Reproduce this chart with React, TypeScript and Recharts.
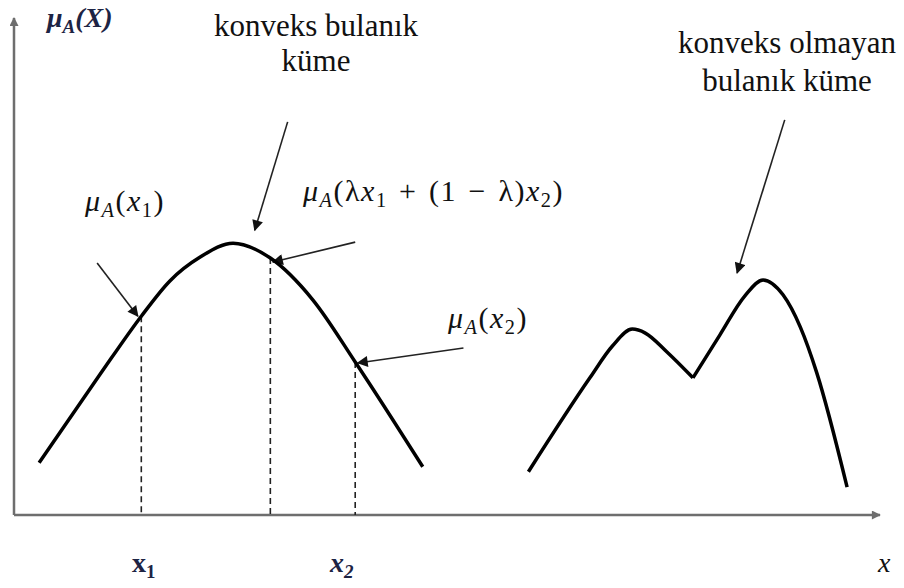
import { ComposedChart, Line, XAxis, YAxis, ReferenceLine, Customized } from 'recharts'

// universe of discourse runs 0..100 along x, membership 0..100 (%) along y
const convexX = [2.9, 9.9, 14.7, 18.0, 21.5, 25.3, 29.6, 34.5, 39.4, 47.2]
const convexMu = [10.5, 28.2, 40.0, 47.1, 51.9, 54.7, 51.7, 43.3, 30.8, 9.7]

// the non-convex set is drawn in two pieces so the dip keeps its sharp corner
const riseX = [59.4, 66.5, 69.1, 71.4, 72.9, 75.4, 78.4]
const riseMu = [8.7, 27.6, 34.0, 37.4, 36.6, 32.8, 27.6]
const fallX = [78.4, 81.5, 84.4, 86.5, 88.8, 90.8, 92.7, 96.2]
const fallMu = [27.6, 36.2, 44.1, 47.3, 44.3, 37.8, 28.6, 5.6]

// indexes into the convex curve: x1, λx1 + (1 − λ)x2, x2
const dropIdx = [2, 6, 8]

// pointer arrows: [fromX, fromMu, toX, toMu]
const pointers = [
  [31.6, 79.1, 27.8, 57.3],
  [9.6, 50.7, 14.3, 40.0],
  [39.4, 54.9, 29.9, 50.9],
  [51.9, 33.6, 39.7, 30.6],
  [89.0, 79.5, 83.5, 48.7],
]

const convex = convexX.map((x, i) => ({ x, mu: convexMu[i] }))
const rise = riseX.map((x, i) => ({ x, mu: riseMu[i] }))
const fall = fallX.map((x, i) => ({ x, mu: fallMu[i] }))

const serif = 'Liberation Serif'
const ink = '#1d2444'
const sp = '\u2004'

const Defs = () => (
  <defs>
    <marker id="head" viewBox="0 0 10 10" refX="9" refY="5" markerWidth="14" markerHeight="11"
      markerUnits="userSpaceOnUse" orient="auto">
      <path d="M0,0 L10,5 L0,10 z" fill="#111" />
    </marker>
    <marker id="axisHead" viewBox="0 0 10 10" refX="9" refY="5" markerWidth="10" markerHeight="9"
      markerUnits="userSpaceOnUse" orient="auto">
      <path d="M0,0 L10,5 L0,10 z" fill="#6e6e6e" />
    </marker>
  </defs>
)

const T = (p: { x: number; y: number; size: number; anchor?: string; fill?: string; bold?: boolean; italic?: boolean; spacing?: number; children: any }) => (
  <text x={p.x} y={p.y} fontFamily={serif} fontSize={p.size} textAnchor={p.anchor ?? 'start'}
    fill={p.fill ?? '#111'} fontWeight={p.bold ? 'bold' : 'normal'} fontStyle={p.italic ? 'italic' : 'normal'}
    letterSpacing={p.spacing ?? 0} style={{ fontFamily: serif, fontSize: p.size }}>
    {p.children}
  </text>
)

// subscripted tspan; the next tspan carries dy back up
const sub = (s: string, italic = false) => (
  <tspan dy={6} fontSize="0.68em" fontStyle={italic ? 'italic' : undefined}>{s}</tspan>
)
const it = (s: string, dy?: number) => <tspan dy={dy} fontStyle="italic">{s}</tspan>
const up = (s: string, dy?: number) => <tspan dy={dy}>{s}</tspan>

const Labels = () => (
  <g>
    <T x={47} y={27} size={28} bold italic fill={ink}>μ{sub('A')}{up('(X)', -6)}</T>

    <T x={316} y={36} size={31} anchor="middle">konveks bulanık</T>
    <T x={316} y={71} size={31} anchor="middle">küme</T>
    <T x={787} y={53} size={31} anchor="middle">konveks olmayan</T>
    <T x={787} y={91} size={31} anchor="middle">bulanık küme</T>

    <T x={85} y={211} size={30} spacing={1.5}>
      {it('μ')}{sub('A', true)}{up('(', -6)}{it('x')}{sub('1')}{up(')', -6)}
    </T>
    <T x={303} y={201} size={30} spacing={1.5}>
      {it('μ')}{sub('A', true)}{up('(λ', -6)}{it('x')}{sub('1')}
      {up(`${sp}+${sp}(1${sp}−${sp}λ)`, -6)}{it('x')}{sub('2')}{up(')', -6)}
    </T>
    <T x={448} y={328} size={30} spacing={1.5}>
      {it('μ')}{sub('A', true)}{up('(', -6)}{it('x')}{sub('2')}{up(')', -6)}
    </T>

    <T x={132} y={572} size={28} bold fill={ink}>x{sub('1')}</T>
    <T x={330} y={572} size={28} bold italic fill={ink}>x{sub('2')}</T>
    <T x={878} y={572} size={28} italic>x</T>
  </g>
)

export default function App() {
  return (
    <div style={{ position: 'absolute', left: 0, top: 0, background: '#fff' }}>
      <ComposedChart width={904} height={588} margin={{ top: 18, right: 24, bottom: 73, left: 14 }}>
        <Customized component={<Defs />} />
        <XAxis type="number" dataKey="x" domain={[0, 100]} hide />
        <YAxis type="number" dataKey="mu" domain={[0, 100]} hide />

        {/* coordinate axes with arrow tips */}
        <ReferenceLine segment={[{ x: 0, y: 0 }, { x: 100, y: 0 }]} stroke="#6e6e6e" strokeWidth={2.5}
          markerEnd="url(#axisHead)" ifOverflow="visible" />
        <ReferenceLine segment={[{ x: 0, y: 0 }, { x: 0, y: 100 }]} stroke="#6e6e6e" strokeWidth={2.5}
          markerEnd="url(#axisHead)" ifOverflow="visible" />

        {dropIdx.map((i) => (
          <ReferenceLine key={`drop-${i}`} segment={[{ x: convexX[i], y: convexMu[i] }, { x: convexX[i], y: 0 }]}
            stroke="#222" strokeWidth={1.6} strokeDasharray="6 4" ifOverflow="visible" />
        ))}

        {pointers.map(([x1, y1, x2, y2], i) => (
          <ReferenceLine key={`ptr-${i}`} segment={[{ x: x1, y: y1 }, { x: x2, y: y2 }]}
            stroke="#222" strokeWidth={1.6} markerEnd="url(#head)" ifOverflow="visible" />
        ))}

        <Line data={convex} dataKey="mu" type="monotone" stroke="#000" strokeWidth={3.5}
          dot={false} isAnimationActive={false} />
        <Line data={rise} dataKey="mu" type="monotone" stroke="#000" strokeWidth={3.5}
          dot={false} isAnimationActive={false} />
        <Line data={fall} dataKey="mu" type="monotone" stroke="#000" strokeWidth={3.5}
          dot={false} isAnimationActive={false} />

        <Customized component={<Labels />} />
      </ComposedChart>
    </div>
  )
}
